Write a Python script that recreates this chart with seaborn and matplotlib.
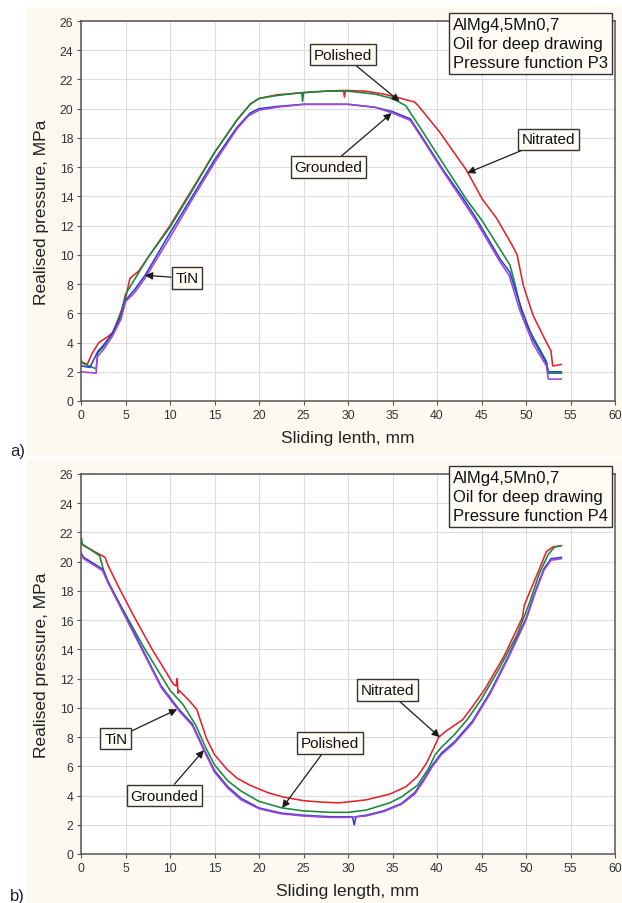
import matplotlib
matplotlib.use("Agg")
import matplotlib.pyplot as plt
from matplotlib.patches import Rectangle
import numpy as np
import pandas as pd
import seaborn as sns

# ---------------- data ----------------
series_names = ["Nitrated", "Polished", "TiN", "Grounded"]
series_colors = ["#e3232b", "#17893a", "#2b3fcf", "#a145d4"]

# panel a) pressure function P3
a_nitrated_x = [0, 0.7, 1.2, 2.0, 3.0, 3.6, 4.6, 5.0, 5.5, 6.5, 7.5, 10, 12.5, 15, 17.5, 19, 20, 22, 25, 27.5,
                29.5, 29.6, 29.7, 32, 34, 36, 37.5, 37.9, 40.3, 43.3, 45.1, 46.7, 48.5, 49.0, 49.7, 50.8, 52.3,
                52.8, 53.0, 54]
a_nitrated_y = [2.7, 2.5, 3.2, 4.0, 4.4, 4.7, 6.3, 7.0, 8.4, 8.9, 9.8, 12.0, 14.5, 17.0, 19.2, 20.3, 20.7, 20.95,
                21.1, 21.2, 21.25, 20.8, 21.25, 21.2, 21.0, 20.7, 20.45, 20.2, 18.4, 15.8, 13.8, 12.5, 10.6, 10.0,
                7.9, 5.85, 4.0, 3.45, 2.4, 2.5]
a_polished_x = [0, 0.1, 1.7, 1.9, 2.5, 3.5, 4.5, 5.0, 7.5, 10, 12.5, 15, 17.5, 19, 20, 22, 24.8, 24.9, 25.0, 27.5,
                30, 33, 35, 36.5, 38, 40, 43.3, 45.0, 48.2, 48.6, 49.7, 52.3, 52.5, 54]
a_polished_y = [2.9, 2.6, 2.2, 3.3, 3.7, 4.6, 6.0, 7.3, 9.8, 11.9, 14.4, 17.0, 19.2, 20.3, 20.7, 20.9, 21.1, 20.5,
                21.1, 21.2, 21.2, 21.0, 20.7, 20.2, 18.8, 16.9, 13.8, 12.4, 9.3, 8.4, 5.6, 2.7, 1.9, 1.9]
a_tin_x = [0, 1.0, 1.9, 2.5, 3.5, 4.5, 5.0, 6.0, 7.2, 10, 12.5, 15, 17.5, 19, 20, 22, 25, 30, 33, 35, 37.0, 38.5,
           40.7, 42.9, 44.3, 47.1, 48.2, 48.6, 49.5, 50.8, 52.3, 52.5, 54]
a_tin_y = [2.4, 2.3, 3.4, 3.8, 4.6, 5.8, 6.9, 7.6, 8.6, 11.5, 14.0, 16.5, 18.7, 19.7, 20.0, 20.15, 20.3, 20.3, 20.1,
           19.8, 19.3, 17.9, 15.8, 13.9, 12.6, 9.7, 8.8, 8.0, 6.3, 4.2, 2.6, 2.0, 2.0]
a_grounded_x = [0, 1.7, 1.8, 2.5, 3.5, 4.5, 5.0, 6.0, 7.2, 10, 12.5, 15, 17.5, 18.8, 20, 22, 25, 30, 33, 35, 37.0,
                38.5, 40.7, 42.9, 44.3, 47.1, 48.1, 48.5, 49.3, 50.8, 52.3, 52.5, 54]
a_grounded_y = [2.0, 1.9, 3.0, 3.5, 4.4, 5.6, 6.8, 7.4, 8.4, 11.2, 13.8, 16.3, 18.6, 19.5, 19.9, 20.1, 20.3, 20.3,
                20.1, 19.7, 19.2, 17.8, 15.7, 13.7, 12.4, 9.5, 8.6, 7.8, 6.2, 3.9, 2.4, 1.5, 1.5]

# panel b) pressure function P4
b_nitrated_x = [0, 0.3, 2.7, 3.0, 4.2, 6, 8, 9.2, 10.4, 10.7, 10.8, 10.9, 11.0, 12.0, 13.0, 14.1, 15, 16.4, 17.5,
                19, 21, 22.7, 25, 27, 29, 32, 34.7, 36.5, 37.8, 38.8, 39.6, 40.2, 41, 42.9, 44, 45.4, 47.5, 49,
                49.6, 49.8, 50.4, 51.5, 52.3, 53, 54]
b_nitrated_y = [21.3, 21.1, 20.3, 19.8, 18.3, 16.2, 14.0, 12.8, 11.6, 11.5, 12.0, 11.0, 11.2, 10.6, 9.9, 7.9, 6.8,
                5.8, 5.2, 4.7, 4.2, 3.9, 3.65, 3.55, 3.5, 3.7, 4.1, 4.6, 5.3, 6.2, 7.2, 8.0, 8.4, 9.2, 10.1, 11.3,
                13.5, 15.4, 16.2, 17.0, 17.9, 19.5, 20.7, 21.0, 21.1]
b_polished_x = [0, 0.05, 0.15, 2.1, 2.5, 3.1, 5, 7, 8.9, 10, 11.5, 12.9, 14, 15, 16.5, 18, 20, 22.6, 25, 28, 30,
                32, 34.7, 36, 37.8, 39, 39.8, 40.5, 42, 43.4, 45, 47.1, 49, 50.4, 51.5, 52.5, 53.2, 54]
b_polished_y = [21.3, 21.6, 21.2, 20.4, 19.5, 18.5, 16.4, 14.2, 12.3, 11.2, 10.2, 8.8, 7.3, 6.1, 5.0, 4.3, 3.6,
                3.15, 2.95, 2.85, 2.85, 3.0, 3.5, 3.9, 4.7, 5.8, 6.8, 7.3, 8.2, 9.2, 10.6, 12.8, 15.0, 17.2, 19.2,
                20.5, 21.0, 21.1]
b_tin_x = [0, 0.3, 2.4, 3.0, 5, 7.75, 9, 11, 12.5, 13.8, 15, 16.5, 18, 20, 22.5, 25, 28, 30.5, 30.7, 30.9, 32,
           34, 36, 37.5, 38.5, 39.5, 40.5, 42, 44, 46, 48, 50, 51, 52, 52.8, 54]
b_tin_y = [20.6, 20.3, 19.5, 18.7, 16.3, 13.0, 11.5, 9.9, 8.9, 7.2, 5.7, 4.6, 3.8, 3.15, 2.8, 2.65, 2.55, 2.55,
           2.0, 2.55, 2.65, 2.95, 3.45, 4.2, 5.1, 6.1, 6.9, 7.7, 9.1, 11.1, 13.5, 16.1, 17.9, 19.5, 20.2, 20.3]
b_grounded_x = [0, 0.3, 2.4, 3.0, 5, 7.75, 9, 11, 12.5, 13.8, 15, 16.5, 18, 20, 22.5, 25, 28, 30, 32, 34, 36,
                37.5, 38.5, 39.5, 40.5, 42, 44, 46, 48, 50, 51, 52, 52.8, 54]
b_grounded_y = [20.5, 20.2, 19.4, 18.6, 16.2, 12.9, 11.4, 9.8, 8.8, 7.1, 5.6, 4.5, 3.7, 3.1, 2.75, 2.6, 2.5, 2.5,
                2.6, 2.9, 3.4, 4.1, 5.0, 6.0, 6.8, 7.6, 9.0, 11.0, 13.4, 16.0, 17.8, 19.4, 20.1, 20.2]

x_ticks = list(range(0, 61, 5))
y_ticks = list(range(0, 27, 2))

a_info = "AlMg4,5Mn0,7\nOil for deep drawing\nPressure function P3"
b_info = "AlMg4,5Mn0,7\nOil for deep drawing\nPressure function P4"
a_xlabel = "Sliding lenth, mm"
b_xlabel = "Sliding length, mm"
ylabel = "Realised pressure, MPa"

# annotations: (label, arrow tip x, tip y, box centre x, box centre y)
a_notes = [("Polished", 35.8, 20.5, 29.4, 23.7),
           ("Grounded", 34.9, 19.7, 27.8, 16.0),
           ("Nitrated", 43.4, 15.6, 52.5, 17.9),
           ("TiN", 7.2, 8.6, 11.9, 8.4)]
b_notes = [("TiN", 10.8, 9.9, 3.9, 7.9),
           ("Grounded", 13.8, 7.1, 9.4, 4.0),
           ("Polished", 22.6, 3.15, 28.0, 7.6),
           ("Nitrated", 40.3, 8.0, 34.4, 11.2)]


def make_df(xs_list, ys_list):
    frames = []
    for name, xs, ys in zip(series_names, xs_list, ys_list):
        frames.append(pd.DataFrame({"x": xs, "y": ys, "series": name}))
    return pd.concat(frames, ignore_index=True)


df_a = make_df([a_nitrated_x, a_polished_x, a_tin_x, a_grounded_x],
               [a_nitrated_y, a_polished_y, a_tin_y, a_grounded_y])
df_b = make_df([b_nitrated_x, b_polished_x, b_tin_x, b_grounded_x],
               [b_nitrated_y, b_polished_y, b_tin_y, b_grounded_y])

# ---------------- style ----------------
sns.set_theme(style="whitegrid")
plt.rcParams["font.family"] = ["Liberation Sans", "DejaVu Sans"]

CREAM = "#fcf9f0"
BOXFC = "#fdfbf3"
SPINE = "#555555"
TEXT = "#222222"

W, H = 622, 904
fig = plt.figure(figsize=(W / 100, H / 100), dpi=100)
fig.patch.set_facecolor("white")

# cream panels behind each chart
fig.add_artist(Rectangle((27 / W, 1 - 457 / H), 1 - 27 / W, (457 - 8) / H,
                         transform=fig.transFigure, fc=CREAM, ec="none", zorder=-10))
fig.add_artist(Rectangle((27 / W, 0), 1 - 27 / W, 1 - 461 / H,
                         transform=fig.transFigure, fc=CREAM, ec="none", zorder=-10))

ax_left = 81 / W
ax_w = (615 - 81) / W
ax_h = 380 / H
ax_a = fig.add_axes([ax_left, 1 - 402 / H, ax_w, ax_h])
ax_b = fig.add_axes([ax_left, 1 - 855 / H, ax_w, ax_h])


def style_axes(ax, df, xlabel, info, notes):
    sns.lineplot(data=df, x="x", y="y", hue="series", hue_order=series_names,
                 palette=series_colors, sort=False, estimator=None, legend=False,
                 linewidth=1.15, ax=ax)
    ax.set_facecolor("white")
    ax.set_xlim(0, 60)
    ax.set_ylim(0, 26)
    ax.set_xticks(x_ticks)
    ax.set_yticks(y_ticks)
    ax.grid(True, color="#dcdcdc", linewidth=0.8)
    for s in ax.spines.values():
        s.set_visible(True)
        s.set_color(SPINE)
        s.set_linewidth(1.1)
    ax.tick_params(axis="both", direction="out", length=3, width=0.8, color=SPINE,
                   labelsize=8.7, labelcolor="#333333", pad=2.5, bottom=True, left=True)
    ax.set_xlabel(xlabel, fontsize=12.5, color=TEXT, labelpad=7)
    ax.set_ylabel(ylabel, fontsize=12.5, color=TEXT, labelpad=8)
    ax.text(0.697, 1.01, info, transform=ax.transAxes, ha="left", va="top",
            fontsize=12, color="#111111", linespacing=1.32,
            bbox=dict(boxstyle="square,pad=0.25", fc=BOXFC, ec="#333333", lw=1.0), zorder=10)
    for label, tx, ty, bx, by in notes:
        ax.annotate(label, xy=(tx, ty), xytext=(bx, by), textcoords="data",
                    ha="center", va="center", fontsize=11, color="#111111",
                    bbox=dict(boxstyle="square,pad=0.25", fc=BOXFC, ec="#333333", lw=1.0),
                    arrowprops=dict(arrowstyle="-|>", color="#1a1a1a", lw=0.9,
                                    mutation_scale=11, shrinkA=0, shrinkB=0),
                    zorder=10)


style_axes(ax_a, df_a, a_xlabel, a_info, a_notes)
style_axes(ax_b, df_b, b_xlabel, b_info, b_notes)

fig.text(10 / W, 1 - 452 / H, "a)", fontsize=12, color=TEXT, ha="left", va="center")
fig.text(10 / W, 1 - 897 / H, "b)", fontsize=12, color=TEXT, ha="left", va="center")

fig.savefig("out.png", dpi=100, facecolor="white")
